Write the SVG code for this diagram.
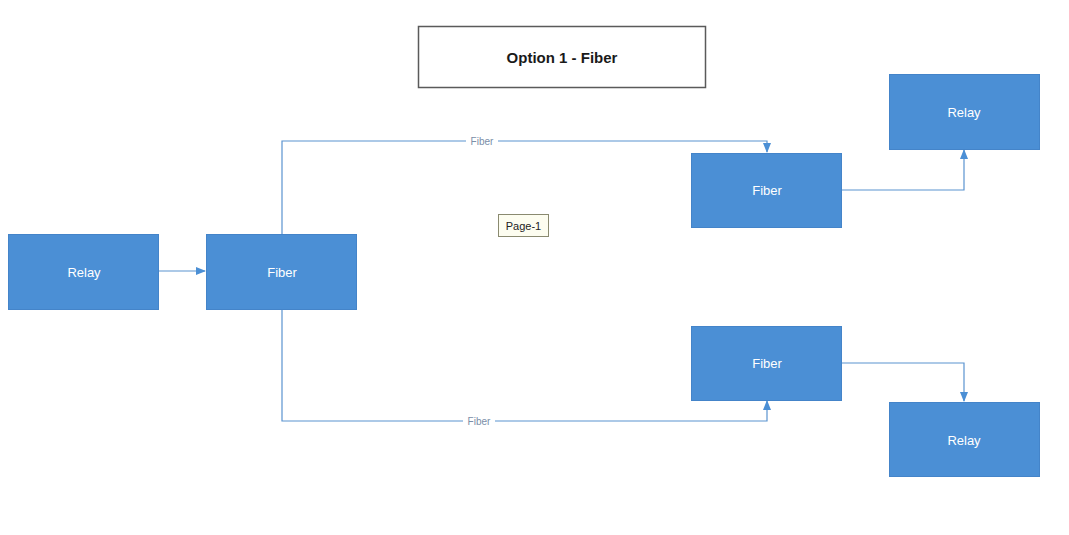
<svg xmlns="http://www.w3.org/2000/svg" width="1069" height="535" viewBox="0 0 1069 535">
<style>
.node{fill:#4b8fd5;stroke:#4484c9;stroke-width:1}
.nt{font-family:"Liberation Sans",Arial,sans-serif;font-size:13px;fill:#ffffff;text-anchor:middle;dominant-baseline:central}
.conn{fill:none;stroke:#5a93d0;stroke-width:1.2}
.cl{font-family:"Liberation Sans",Arial,sans-serif;font-size:10px;fill:#7a8ea8;text-anchor:middle;dominant-baseline:central}
</style>
<defs>
<marker id="ah" markerWidth="10" markerHeight="8" refX="9" refY="4" orient="auto" markerUnits="userSpaceOnUse">
<path d="M0,0 L10,4 L0,8 Z" fill="#4b8fd5"/>
</marker>
</defs>
<rect width="1069" height="535" fill="#ffffff"/>
<g id="title">
<rect x="418.500" y="26.500" width="287" height="61" fill="#ffffff" stroke="#5a5a5a" stroke-width="1.5"/>
<text x="562" y="57" font-family="Liberation Sans,Arial,sans-serif" font-size="15" font-weight="bold" fill="#1a1a1a" text-anchor="middle" dominant-baseline="central">Option 1 - Fiber</text>
</g>
<g id="page-label">
<rect x="498.500" y="214.500" width="50" height="22" fill="#fdfdf0" stroke="#8a8a70" stroke-width="1"/>
<text x="523.500" y="225.500" font-family="Liberation Sans,Arial,sans-serif" font-size="11" fill="#222222" text-anchor="middle" dominant-baseline="central">Page-1</text>
</g>
<g id="connectors">
<path class="conn" d="M159,271 H205" marker-end="url(#ah)"/>
<path class="conn" d="M282,234 V141 H767 V152" marker-end="url(#ah)"/>
<path class="conn" d="M282,309 V421 H767 V401" marker-end="url(#ah)"/>
<path class="conn" d="M842,190 H964 V150" marker-end="url(#ah)"/>
<path class="conn" d="M842,363 H964 V401" marker-end="url(#ah)"/>
<rect x="466" y="135" width="32" height="12" fill="#ffffff"/>
<text class="cl" x="482" y="141">Fiber</text>
<rect x="463" y="415" width="32" height="12" fill="#ffffff"/>
<text class="cl" x="479" y="421">Fiber</text>
</g>
<g id="relay-left">
<rect class="node" x="8.500" y="234.500" width="150" height="75"/>
<text class="nt" x="84" y="272">Relay</text>
</g>
<g id="fiber-main">
<rect class="node" x="206.500" y="234.500" width="150" height="75"/>
<text class="nt" x="282" y="272">Fiber</text>
</g>
<g id="fiber-top">
<rect class="node" x="691.500" y="153.500" width="150" height="74"/>
<text class="nt" x="767" y="190">Fiber</text>
</g>
<g id="relay-top">
<rect class="node" x="889.500" y="74.500" width="150" height="75"/>
<text class="nt" x="964" y="112">Relay</text>
</g>
<g id="fiber-bottom">
<rect class="node" x="691.500" y="326.500" width="150" height="74"/>
<text class="nt" x="767" y="363">Fiber</text>
</g>
<g id="relay-bottom">
<rect class="node" x="889.500" y="402.500" width="150" height="74"/>
<text class="nt" x="964" y="440">Relay</text>
</g>
</svg>
